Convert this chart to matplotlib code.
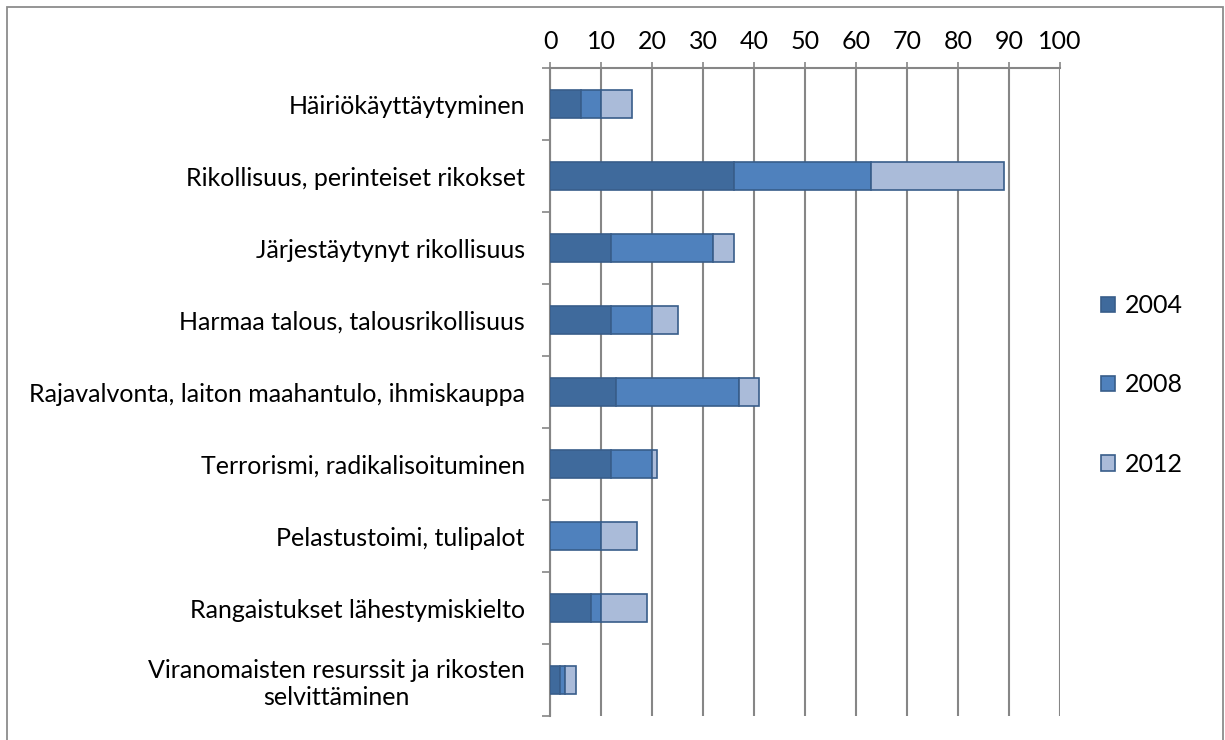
import matplotlib
matplotlib.use("Agg")
import matplotlib.pyplot as plt
import numpy as np
from matplotlib.patches import Rectangle

# Data (stacked bars, per year)
categories = [
    "Häiriökäyttäytyminen",
    "Rikollisuus, perinteiset rikokset",
    "Järjestäytynyt rikollisuus",
    "Harmaa talous, talousrikollisuus",
    "Rajavalvonta, laiton maahantulo, ihmiskauppa",
    "Terrorismi, radikalisoituminen",
    "Pelastustoimi, tulipalot",
    "Rangaistukset lähestymiskielto",
    "Viranomaisten resurssit ja rikosten\nselvittäminen",
]
years = ["2004", "2008", "2012"]
v2004 = [6, 36, 12, 12, 13, 12, 0, 8, 2]
v2008 = [4, 27, 20, 8, 24, 8, 10, 2, 1]
v2012 = [6, 26, 4, 5, 4, 1, 7, 9, 2]
x_ticks = [0, 10, 20, 30, 40, 50, 60, 70, 80, 90, 100]

plt.rcParams["font.family"] = ["Lato", "DejaVu Sans"]
FS = 18

W, H = 1225, 740
fig = plt.figure(figsize=(W / 100, H / 100), dpi=100)
ax = fig.add_axes([550 / W, 1 - 716 / H, 510 / W, (716 - 68) / H])

face = ["#3F6A9C", "#4F81BD", "#AABBD9"]
edge = "#385D8A"
grey = "#868686"

y = np.arange(len(categories))
left = np.zeros(len(categories))
for vals, lab, fc in zip([v2004, v2008, v2012], years, face):
    ax.barh(y, vals, left=left, height=0.4, color=fc, edgecolor=edge,
            linewidth=1.2, label=lab, zorder=3)
    left += np.array(vals)

ax.set_xlim(0, 100)
ax.set_ylim(len(categories) - 0.5, -0.5)
ax.set_xticks(x_ticks)
ax.xaxis.tick_top()
ax.tick_params(axis="x", length=4, width=1.2, color=grey, pad=7,
               labelsize=FS, labelcolor="black")
ax.grid(axis="x", color=grey, linewidth=1.5, zorder=0)

ax.set_yticks(y)
ax.set_yticklabels(categories, fontsize=FS)
for t in ax.get_yticklabels():
    t.set_multialignment("center")
ax.set_yticks(np.arange(len(categories) + 1) - 0.5, minor=True)
ax.tick_params(axis="y", which="major", length=0, pad=18)
ax.tick_params(axis="y", which="minor", length=6, width=1.2, color=grey)

for s in ["right", "bottom"]:
    ax.spines[s].set_visible(False)
for s in ["left", "top"]:
    ax.spines[s].set_color(grey)
    ax.spines[s].set_linewidth(1.5)

leg = fig.legend(loc="center left", bbox_to_anchor=(1078 / W, 1 - 385 / H),
                 frameon=False, fontsize=FS, labelspacing=2.25,
                 handlelength=0.58, handleheight=0.58, handletextpad=0.4)

# outer chart border
fig.patches.append(Rectangle((7 / W, -0.01), (1223 - 7) / W, 1 - 7 / H + 0.01,
                             transform=fig.transFigure, fill=False,
                             edgecolor="#8C8C8C", linewidth=1.3))

fig.savefig("out.png", dpi=100)
